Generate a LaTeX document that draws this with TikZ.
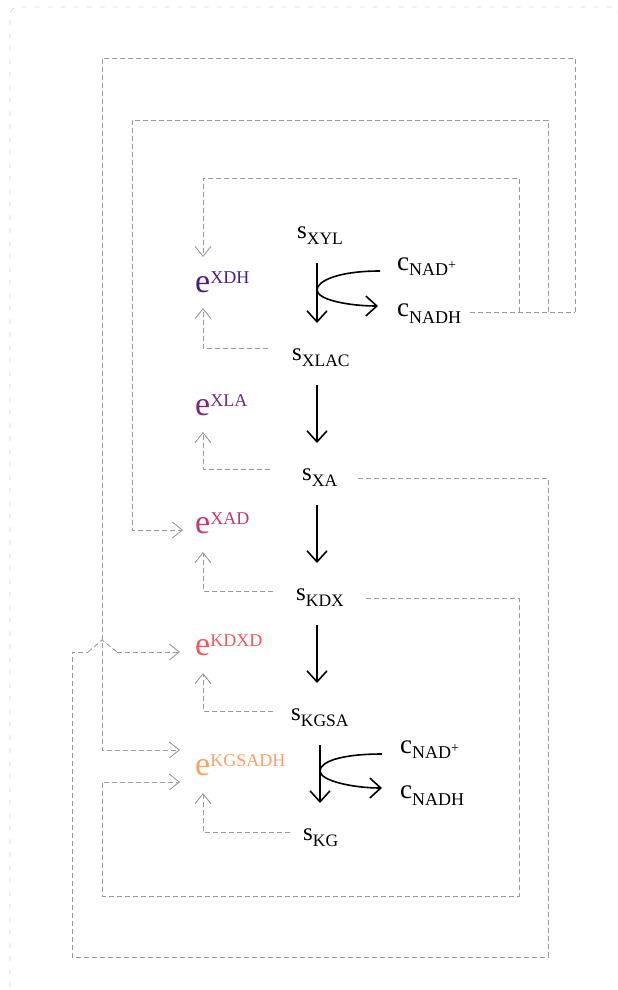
\documentclass[tikz,border=0pt]{standalone}
\usepackage{fontspec}
\setmainfont{Liberation Serif}
\usetikzlibrary{arrows.meta,calc}

% enzyme colours
\definecolor{cXDH}{HTML}{4B1D8A}
\definecolor{cXLA}{HTML}{7D2482}
\definecolor{cXAD}{HTML}{C3367A}
\definecolor{cKDXD}{HTML}{F0585C}
\definecolor{cKGSADH}{HTML}{FCA064}
\definecolor{fbgray}{HTML}{9A9A9A}
\definecolor{framegray}{HTML}{D4D4D4}

% lowered and raised labels
\newcommand\lo[3][6.5pt]{\raisebox{-#1}{\fontsize{#2}{#2}\selectfont #3}}
\newcommand\hi[1]{\raisebox{9pt}{\fontsize{18}{18}\selectfont #1}}
\newcommand\plusmark{\raisebox{6pt}{\fontsize{14}{14}\selectfont +}}

\begin{document}
\begin{tikzpicture}[x=1pt,y=-1pt,
  spec/.style={font=\fontsize{25}{30}\selectfont, inner sep=0pt, anchor=base west},
  cof/.style={font=\fontsize{27}{30}\selectfont, inner sep=0pt, anchor=base west},
  enz/.style={font=\fontsize{34}{40}\selectfont, inner sep=0pt, anchor=base west},
  rxn/.style={line width=1.6pt, -{Straight Barb[length=11pt,width=20pt]}},
  fb/.style={draw=fbgray, line width=0.9pt, dash pattern=on 5pt off 3pt},
  fbtip/.style={fb, -{Straight Barb[length=10pt,width=16pt]}},
  frame/.style={draw=framegray, line width=0.8pt, dash pattern=on 5pt off 8pt}
]
\useasboundingbox (0,0) rectangle (618,990);
\begin{scope}
\clip (0,0) rectangle (618,990);
\draw[frame, rounded corners=8pt] (10,1000) -- (10,7) -- (619,7) -- (619,1000);
\end{scope}

% species
\node[spec] (sXYL)  at (297,238) {s\lo{17.5}{XYL}};
\node[spec] (sXLAC) at (292,360) {s\lo{17.5}{XLAC}};
\node[spec] (sXA)   at (302,480) {s\lo{17.5}{XA}};
\node[spec] (sKDX)  at (296,600) {s\lo{17.5}{KDX}};
\node[spec] (sKGSA) at (291,720) {s\lo{17.5}{KGSA}};
\node[spec] (sKG)   at (303,840) {s\lo{17.5}{KG}};

% cofactors
\node[cof] (nad1)  at (397,270) {c\lo[5pt]{18}{NAD\plusmark}};
\node[cof] (nadh1) at (397,316) {c\lo[7pt]{18}{NADH}};
\node[cof] (nad2)  at (400,753) {c\lo[5pt]{18}{NAD\plusmark}};
\node[cof] (nadh2) at (400,798) {c\lo[7pt]{18}{NADH}};

% enzymes
\node[enz, text=cXDH]    (eXDH)    at (195,292) {e\hi{XDH}};
\node[enz, text=cXLA]    (eXLA)    at (195,415) {e\hi{XLA}};
\node[enz, text=cXAD]    (eXAD)    at (195,533) {e\hi{XAD}};
\node[enz, text=cKDXD]   (eKDXD)   at (195,655) {e\hi{KDXD}};
\node[enz, text=cKGSADH] (eKGSADH) at (195,775) {e\hi{KGSADH}};

% reaction axis
\coordinate (ax) at (317,0);
\coordinate (axb) at (320,0);

\draw[rxn] ($(ax |- sXYL.base)+(0,25)$)  -- ($(ax |- sXLAC.base)+(0,-37)$);
\draw[rxn] ($(ax |- sXLAC.base)+(0,25)$) -- ($(ax |- sXA.base)+(0,-37)$);
\draw[rxn] ($(ax |- sXA.base)+(0,25)$)   -- ($(ax |- sKDX.base)+(0,-37)$);
\draw[rxn] ($(ax |- sKDX.base)+(0,25)$)  -- ($(ax |- sKGSA.base)+(0,-37)$);
\draw[rxn] ($(axb |- sKGSA.base)+(0,25)$) -- ($(axb |- sKG.base)+(0,-37)$);

% cofactor conversion
\draw[rxn] ($(nad1.base west)+(-17,1)$) .. controls +(-42,0) and +(0,-9) .. (317,290)
  .. controls +(0,10) and +(-28,0) .. ($(nadh1.base west)+(-19,-10)$);
\draw[rxn] ($(nad2.base west)+(-18,1)$) .. controls +(-42,0) and +(0,-9) .. (320,771)
  .. controls +(0,10) and +(-28,0) .. ($(nadh2.base west)+(-18,-10)$);

% product activation of enzymes
\draw[fbtip] ($(sXLAC.base west)+(-24,-12)$) -| ($(eXDH.base west)+(8,16)$);
\draw[fbtip] ($(sXA.base west)+(-32,-11)$)   -| ($(eXLA.base west)+(8,17)$);
\draw[fbtip] ($(sKDX.base west)+(-23,-9)$)   -| ($(eXAD.base west)+(8,19)$);
\draw[fbtip] ($(sKGSA.base west)+(-18,-9)$)  -| ($(eKDXD.base west)+(8,18)$);
\draw[fbtip] ($(sKG.base west)+(-13,-8)$)    -| ($(eKGSADH.base west)+(8,18)$);

% NADH feedback
\coordinate (j1) at (519,312);
\coordinate (j2) at (548,312);
\coordinate (j3) at (575,312);
\draw[fb] ($(nadh1.base east)+(9,-4)$) -- (j3);
\draw[fbtip] (j1) -- (519,178) -- (203,178) -- ($(eXDH.base west)+(8,-35)$);
\draw[fbtip] (j2) -- (548,120) -- (132,120) |- ($(eXAD.base west)+(-12,-3)$);
\draw[fbtip] (j3) -- (575,58) -- (102,58) |- ($(eKGSADH.base west)+(-15,-25)$);

% long feedback loops, with a small hop over the vertical line at x = 102
\coordinate (hopL) at (88,652);
\coordinate (hopR) at (117,652);
\draw[fb] ($(sXA.base east)+(21,-2)$) -- (548,478) -- (548,957) -- (72,957) -- (72,652) -- (hopL);
\draw[fb] (hopL) -- (102,640) -- (hopR);
\draw[fbtip] (hopR) -- ($(eKDXD.base west)+(-15,-3)$);
\draw[fbtip] ($(sKDX.base east)+(22,-2)$) -- (519,598) -- (519,896) -- (102,896)
  |- ($(eKGSADH.base west)+(-15,7)$);
\end{tikzpicture}
\end{document}
